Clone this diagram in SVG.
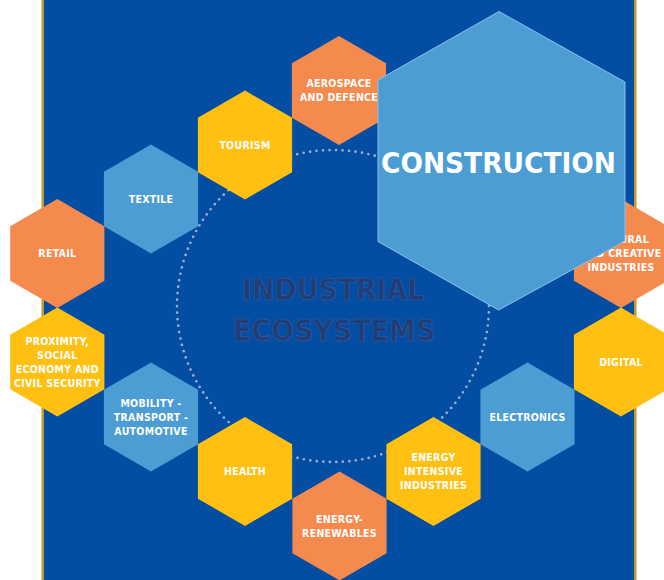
<svg xmlns="http://www.w3.org/2000/svg" xmlns:xlink="http://www.w3.org/1999/xlink" width="664" height="580" viewBox="0 0 664 580">
  <style>
    .lbl { font-family: "DejaVu Sans Condensed", "Liberation Sans", Arial, sans-serif; font-stretch: condensed; font-weight: bold; font-size: 10.5px; fill: #FFFFFF; text-anchor: middle; letter-spacing: 0.3px; }
    .orange { fill: #F58A4F; }
    .yellow { fill: #FFC012; }
    .blue { fill: #4B9DD4; }
    .center { font-family: "DejaVu Sans Condensed", "Liberation Sans", Arial, sans-serif; font-stretch: condensed; font-weight: bold; font-size: 31px; fill: #1F3D77; stroke: #3C5E9D; stroke-width: 0.6; text-anchor: middle; }
  </style>
  <defs>
    <polygon id="hex" points="0,-54.4 47.1,-27.2 47.1,27.2 0,54.4 -47.1,27.2 -47.1,-27.2"/>
  </defs>
  <rect x="0" y="0" width="664" height="580" fill="#FFFFFF"/>
  <rect x="43" y="0" width="592" height="580" fill="#034DA2"/>
  <rect x="41.5" y="0" width="2.5" height="580" fill="#C29A26"/>
  <rect x="634" y="0" width="2.5" height="580" fill="#C29A26"/>

  <g id="connectors">
    <circle cx="333" cy="306" r="156" fill="none" stroke="#9DAFD0" stroke-width="2.7" stroke-linecap="round" stroke-dasharray="0 6.53"/>
  </g>

  <g id="title">
    <text class="center" x="333" y="300" textLength="182" lengthAdjust="spacingAndGlyphs">INDUSTRIAL</text>
    <text class="center" x="334" y="341" textLength="202" lengthAdjust="spacingAndGlyphs">ECOSYSTEMS</text>
  </g>

  <g id="aerospace" transform="translate(339,90.5)">
    <use xlink:href="#hex" class="orange"/>
    <text class="lbl" y="-3.2">AEROSPACE</text>
    <text class="lbl" y="10.8">AND DEFENCE</text>
  </g>
  <g id="tourism" transform="translate(245,145)">
    <use xlink:href="#hex" class="yellow"/>
    <text class="lbl" y="3.8">TOURISM</text>
  </g>
  <g id="textile" transform="translate(151,199)">
    <use xlink:href="#hex" class="blue"/>
    <text class="lbl" y="3.8">TEXTILE</text>
  </g>
  <g id="retail" transform="translate(57.3,253.5)">
    <use xlink:href="#hex" class="orange"/>
    <text class="lbl" y="3.8">RETAIL</text>
  </g>
  <g id="proximity" transform="translate(57.3,362)">
    <use xlink:href="#hex" class="yellow"/>
    <text class="lbl" y="-17.2">PROXIMITY,</text>
    <text class="lbl" y="-3.2">SOCIAL</text>
    <text class="lbl" y="10.8">ECONOMY AND</text>
    <text class="lbl" y="24.8">CIVIL SECURITY</text>
  </g>
  <g id="mobility" transform="translate(151,417)">
    <use xlink:href="#hex" class="blue"/>
    <text class="lbl" y="-10.2">MOBILITY -</text>
    <text class="lbl" y="3.8">TRANSPORT -</text>
    <text class="lbl" y="17.8">AUTOMOTIVE</text>
  </g>
  <g id="health" transform="translate(245,471.5)">
    <use xlink:href="#hex" class="yellow"/>
    <text class="lbl" y="3.8">HEALTH</text>
  </g>
  <g id="energy-renewables" transform="translate(339.5,526)">
    <use xlink:href="#hex" class="orange"/>
    <text class="lbl" y="-3.2">ENERGY-</text>
    <text class="lbl" y="10.8">RENEWABLES</text>
  </g>
  <g id="energy-intensive" transform="translate(433.5,471.5)">
    <use xlink:href="#hex" class="yellow"/>
    <text class="lbl" y="-10.2">ENERGY</text>
    <text class="lbl" y="3.8">INTENSIVE</text>
    <text class="lbl" y="17.8">INDUSTRIES</text>
  </g>
  <g id="electronics" transform="translate(527.5,417)">
    <use xlink:href="#hex" class="blue"/>
    <text class="lbl" y="3.8">ELECTRONICS</text>
  </g>
  <g id="digital" transform="translate(621,362)">
    <use xlink:href="#hex" class="yellow"/>
    <text class="lbl" y="3.8">DIGITAL</text>
  </g>
  <g id="cultural" transform="translate(621,253.5)">
    <use xlink:href="#hex" class="orange"/>
    <text class="lbl" y="-10.2">CULTURAL</text>
    <text class="lbl" y="3.8">AND CREATIVE</text>
    <text class="lbl" y="17.8">INDUSTRIES</text>
  </g>
  <g id="construction">
    <polygon points="499,11.5 625,82 625,241 498.5,310 378,241.5 378,80" fill="#4B9DD4" stroke="#8EC2EA" stroke-width="1"/>
    <text x="498.5" y="172.5" font-family="DejaVu Sans Condensed, Liberation Sans, Arial, sans-serif" font-stretch="condensed" font-weight="bold" font-size="29" fill="#FFFFFF" text-anchor="middle" textLength="235" lengthAdjust="spacingAndGlyphs">CONSTRUCTION</text>
  </g>
</svg>
